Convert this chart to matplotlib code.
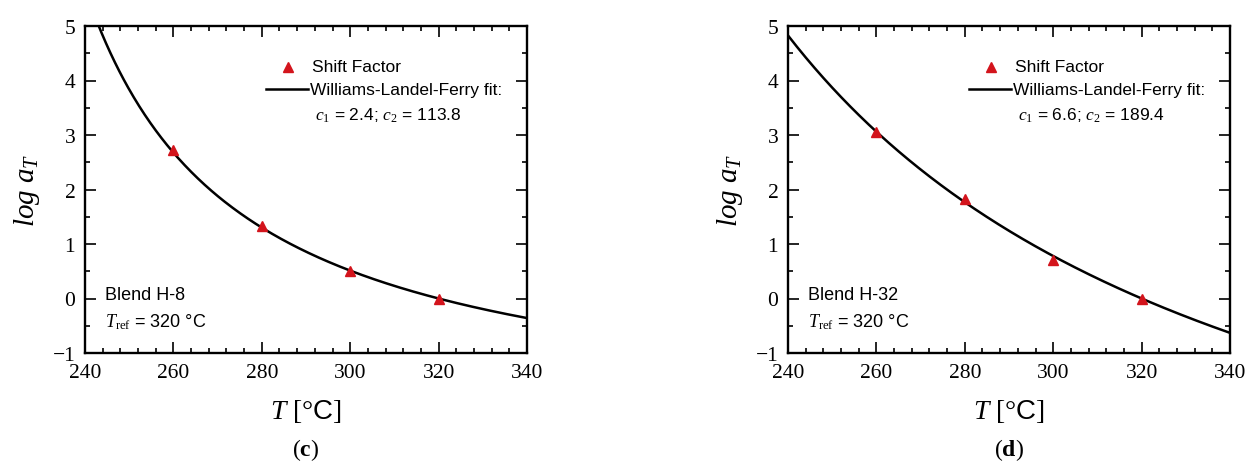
import numpy as np
import matplotlib.pyplot as plt
from matplotlib.ticker import MultipleLocator

plt.rcParams['font.family'] = 'Liberation Sans'
plt.rcParams['mathtext.fontset'] = 'custom'
plt.rcParams['mathtext.rm'] = 'Liberation Serif'
plt.rcParams['mathtext.it'] = 'Liberation Serif:italic'
plt.rcParams['mathtext.bf'] = 'Liberation Serif:bold'
plt.rcParams['mathtext.sf'] = 'Liberation Sans'

# measured shift factors
temps = [260, 280, 300, 320]
shift_h8 = [2.72, 1.33, 0.50, 0.00]
shift_h32 = [3.05, 1.83, 0.70, 0.00]

# WLF parameters printed on the chart
t_ref = 320
c1_h8, c2_h8 = 2.4, 113.8
c1_h32, c2_h32 = 6.6, 189.4

panels = [
    ('H-8', shift_h8, c1_h8, c2_h8, 'c'),
    ('H-32', shift_h32, c1_h32, c2_h32, 'd'),
]

red = '#d3141c'

fig = plt.figure(figsize=(12.47, 4.64), dpi=100)
lefts = [85 / 1247, 788 / 1247]
w = 442 / 1247
b = 1 - 354 / 464
h = 327 / 464

for left, (name, shifts, c1, c2, tag) in zip(lefts, panels):
    ax = fig.add_axes([left, b, w, h])

    # fitted WLF curve from the stated constants
    T = np.linspace(240, 340, 400)
    dT = T - t_ref
    log_a = -c1 * dT / (c2 + dT)
    ax.plot(T, log_a, color='black', lw=1.8, zorder=2)
    ax.plot(temps, shifts, ls='none', marker='^', ms=6.5, color=red, zorder=3)

    ax.set_xlim(240, 340)
    ax.set_ylim(-1, 5)
    ax.xaxis.set_major_locator(MultipleLocator(20))
    ax.xaxis.set_minor_locator(MultipleLocator(4))
    ax.yaxis.set_major_locator(MultipleLocator(1))
    ax.yaxis.set_minor_locator(MultipleLocator(0.5))
    ax.tick_params(which='both', direction='in', top=True, right=True)
    ax.tick_params(which='major', length=8, width=1.2, pad=7)
    ax.tick_params(which='minor', length=3.5, width=1.2)
    for s in ax.spines.values():
        s.set_linewidth(1.7)
    for lab in ax.get_xticklabels() + ax.get_yticklabels():
        lab.set_fontfamily('Liberation Serif')
        lab.set_fontsize(15.5)

    ax.set_xlabel(r'$T$ [°$\mathsf{C}$]', fontsize=20, family='Liberation Serif')
    ax.xaxis.set_label_coords(0.5, -0.177)
    ax.xaxis.label.set_va('center')
    ax.set_ylabel(r'$log\ a_T$', fontsize=21, family='Liberation Serif')
    ax.yaxis.set_label_coords(-0.131, 0.5)
    ax.yaxis.label.set_va('center')

    # hand-placed legend
    ax.plot([0.459], [0.875], transform=ax.transAxes, marker='^', ms=6.5,
            color=red, ls='none', clip_on=False)
    ax.text(0.514, 0.875, 'Shift Factor', transform=ax.transAxes,
            fontsize=12.5, va='center')
    ax.plot([0.41, 0.505], [0.807, 0.807], transform=ax.transAxes,
            color='black', lw=1.8, clip_on=False)
    ax.text(0.508, 0.807, 'Williams-Landel-Ferry fit:', transform=ax.transAxes,
            fontsize=12.5, va='center')
    ax.text(0.52, 0.728, r'$c_1$ = %.1f; $c_2$ = %.1f' % (c1, c2),
            transform=ax.transAxes, fontsize=12.5, va='center')

    ax.text(0.045, 0.180, 'Blend ' + name, transform=ax.transAxes,
            fontsize=13, va='center')
    ax.text(0.045, 0.098, r'$T_{\mathrm{ref}}$ = %d °C' % t_ref,
            transform=ax.transAxes, fontsize=13, va='center')

    fig.text(left + w / 2, 1 - 450 / 464, r'($\mathbf{%s}$)' % tag,
             ha='center', va='center', fontsize=17, family='Liberation Serif')

fig.savefig('out.png', dpi=100, facecolor='white')
